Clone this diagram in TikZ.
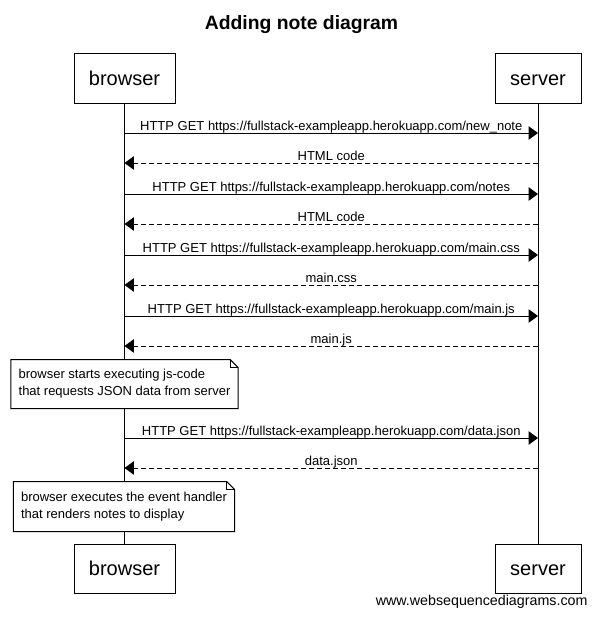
\documentclass[tikz,border=0pt]{standalone}
\usepackage{fontspec}
\setmainfont{Liberation Sans}
\usetikzlibrary{positioning,calc,arrows.meta}
\tikzset{sequence layout/.style={%
    y=-0.75pt,%
    x=0.75pt,%
    every path/.style={%
        black, line width=0.75pt%
    },%
    participant/.style={%
        draw, fill=white, minimum height=36.75pt, inner sep=0pt, text height=10.9pt, text depth=0pt, font=\fontsize{15}{18}\selectfont%
    },%
    message/.style={%
        -{Triangle[length=7pt,width=10pt]}%
    },%
    reply/.style={%
        message, dash pattern=on 3.75pt off 2.25pt%
    },%
    msg label/.style={%
        anchor=base, yshift=2.25pt, inner sep=0pt, font=\fontsize{9.75}{12}\selectfont%
    },%
    note/.style={%
        fill=white, align=left, inner xsep=5.4pt, inner ysep=0pt, font=\fontsize{9.75}{12.75}\selectfont%
    }%
}}

\begin{document}
\begin{tikzpicture}[sequence layout]
    \useasboundingbox (0,0) rectangle (596,617);
    \node (title) at (301.5,30) [anchor=base, inner sep=0pt, font=\fontsize{14.5}{17}\selectfont\bfseries] {Adding note diagram};

    \node (bt) at (124.5,78.5) [participant, minimum width=75.75pt] {browser};
    \node (st) at (538,78.5) [participant, minimum width=64.5pt] {server};
    \node (bb) at (124.5,568.5) [participant, minimum width=75.75pt] {browser};
    \node (sb) at (538,568.5) [participant, minimum width=64.5pt] {server};
    \draw (bt) -- (bb);
    \draw (st) -- (sb);

    \foreach \y/\file in {133/new\_note, 194/notes, 255/main.css, 316/main.js, 438/data.json} {
        \pgfmathtruncatemacro{\ry}{\y+30}
        \coordinate (b\y) at (bt |- 0,\y);
        \coordinate (s\y) at (st |- 0,\y);
        \coordinate (b\ry) at (bt |- 0,\ry);
        \coordinate (s\ry) at (st |- 0,\ry);
        \draw [message] (b\y) -- node [msg label] {HTTP GET https://fullstack-exampleapp.herokuapp.com/\file} (s\y);
    }
    \draw [reply] (s163) -- node [msg label] {HTML code} (b163);
    \draw [reply] (s224) -- node [msg label] {HTML code} (b224);
    \draw [reply] (s285) -- node [msg label] {main.css} (b285);
    \draw [reply] (s346) -- node [msg label] {main.js} (b346);
    \draw [reply] (s468) -- node [msg label] {data.json} (b468);

    % notes over the browser
    \node (n1) at (124.5,384) [note, minimum height=36pt] {browser starts executing js-code\\that requests JSON data from server};
    \node (n2) at (124,506.5) [note, minimum height=36.75pt] {browser executes the event handler\\that renders notes to display};
    \foreach \n in {n1,n2} {
        \draw (\n.north west) -- ($(\n.north east)+(-8,0)$) -- ($(\n.north east)+(0,8)$) |- (\n.south west) -- cycle;
        \draw ($(\n.north east)+(-8,0)$) |- ($(\n.north east)+(0,8)$);
    }

    \node (footer) at (588,605) [anchor=base east, inner sep=0pt, font=\fontsize{10.7}{12}\selectfont] {www.websequencediagrams.com};
\end{tikzpicture}
\end{document}
